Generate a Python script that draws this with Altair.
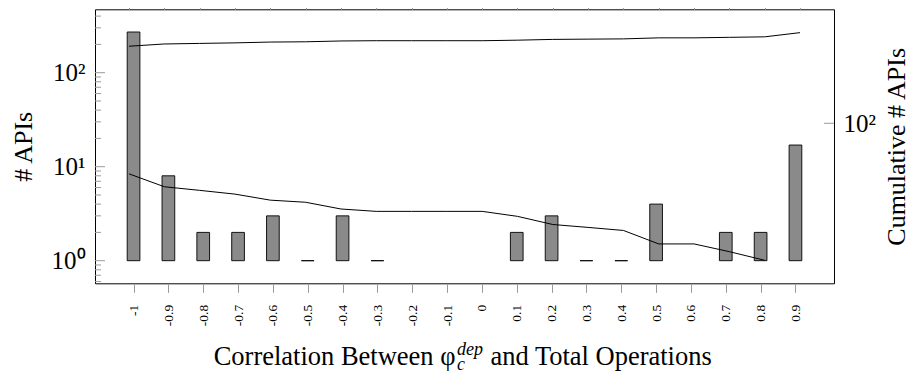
import json
import altair as alt
import pandas as pd

# ---------------- data ----------------
x_vals = [-1.0, -0.9, -0.8, -0.7, -0.6, -0.5, -0.4, -0.3, -0.2, -0.1,
          0.0, 0.1, 0.2, 0.3, 0.4, 0.5, 0.6, 0.7, 0.8, 0.9]
api_counts = [271, 8, 2, 2, 3, 1, 3, 1, 0, 0,
              0, 2, 3, 1, 1, 4, 0, 2, 2, 17]
cumulative = [271, 279, 281, 283, 286, 287, 290, 291, 291, 291,
              291, 293, 296, 297, 298, 302, 302, 304, 306, 323]
remaining = [52, 44, 42, 40, 37, 36, 33, 32, 32, 32,
             32, 30, 27, 26, 25, 21, 21, 19, 17, None]

x_tick_labels = ["-1", "-0.9", "-0.8", "-0.7", "-0.6", "-0.5", "-0.4", "-0.3", "-0.2", "-0.1",
                 "0", "0.1", "0.2", "0.3", "0.4", "0.5", "0.6", "0.7", "0.8", "0.9"]
y_left_ticks = [1, 10, 100]
y_left_labels = ["10⁰", "10¹", "10²"]
y_left_minor = [0.6, 0.7, 0.8, 0.9, 2, 3, 4, 5, 6, 7, 8, 9,
                20, 30, 40, 50, 60, 70, 80, 90, 200, 300, 400]
y_right_ticks = [100]
y_right_labels = ["10²"]

y_left_title = "# APIs"
y_right_title = "Cumulative # APIs"
x_title_parts = ["Correlation Between φ", "dep", "c", "and Total Operations"]

# ---------------- layout / style ----------------
W, H = 739, 274
FONT = "Liberation Serif"
TICK_GREY = "#9a9a9a"

bars_df = pd.DataFrame({"x": x_vals, "count": api_counts})
bars_df = bars_df[bars_df["count"] > 0].copy()
bars_df["base"] = 1
line_df = pd.DataFrame({"x": x_vals, "cumulative": cumulative, "remaining": remaining})
rem_df = line_df.dropna(subset=["remaining"])

XDOM = [-1.0963, 0.9963]
YLDOM = [0.5748, 472.6]
YRDOM = [12.62, 436.9]


def xs():
    return alt.Scale(domain=XDOM, nice=False, zero=False)


def yls():
    return alt.Scale(type="log", domain=YLDOM, nice=False)


def yrs():
    return alt.Scale(type="log", domain=YRDOM, nice=False)


x_label_expr = json.dumps(x_tick_labels, ensure_ascii=False) + "[round((datum.value + 1) * 10)]"
yl_label_expr = (f"datum.value < 3 ? '{y_left_labels[0]}' : "
                 f"datum.value < 30 ? '{y_left_labels[1]}' : '{y_left_labels[2]}'")
yr_label_expr = f"'{y_right_labels[0]}'"

bottom_axis = alt.Axis(orient="bottom", values=x_vals, labelExpr=x_label_expr, labelAngle=270,
                       labelFontSize=13.5, tickSize=9, tickColor=TICK_GREY, tickWidth=1,
                       labelPadding=12, domain=False, grid=False, title=None)
left_axis = alt.Axis(orient="left", values=y_left_ticks, labelExpr=yl_label_expr,
                     ticks=False, tickSize=0,
                     domain=False, grid=False, labelFontSize=25, labelPadding=10,
                     title=y_left_title, titleFontSize=26, titleAngle=270,
                     titleX=-64, titleY=H / 2, titleAlign="center",
                     titleBaseline="alphabetic")
top_axis = alt.Axis(orient="top", values=x_vals, labels=False, tickSize=9,
                    tickColor=TICK_GREY, tickWidth=1, domain=False, grid=False, title=None)
right_axis = alt.Axis(orient="right", values=y_right_ticks, labelExpr=yr_label_expr,
                      ticks=False, tickSize=0, domain=False, grid=False,
                      labelFontSize=25, labelPadding=9,
                      title=y_right_title, titleFontSize=26, titleAngle=270,
                      titleX=71, titleY=H / 2, titleAlign="center",
                      titleBaseline="alphabetic")

bars = alt.Chart(bars_df).mark_bar(size=12.7, fill="#8a8a8a", stroke="black",
                                   strokeWidth=0.9).encode(
    x=alt.X("x:Q", scale=xs(), axis=bottom_axis),
    y=alt.Y("count:Q", scale=yls(), axis=left_axis),
    y2="base:Q",
)

major_ticks = alt.Chart(pd.DataFrame({"v": y_left_ticks})).mark_rule(
    color=TICK_GREY, strokeWidth=1).encode(
    y=alt.Y("v:Q", scale=yls(), axis=None), x=alt.value(0), x2=alt.value(10))
minor_ticks = alt.Chart(pd.DataFrame({"v": y_left_minor})).mark_rule(
    color=TICK_GREY, strokeWidth=1).encode(
    y=alt.Y("v:Q", scale=yls(), axis=None), x=alt.value(0), x2=alt.value(6))

cum_line = alt.Chart(line_df).mark_line(color="black", strokeWidth=1).encode(
    x=alt.X("x:Q", scale=xs(), axis=top_axis),
    y=alt.Y("cumulative:Q", scale=yrs(), axis=right_axis),
)
rem_line = alt.Chart(rem_df).mark_line(color="black", strokeWidth=1).encode(
    x=alt.X("x:Q", scale=xs(), axis=None),
    y=alt.Y("remaining:Q", scale=yrs(), axis=None),
)
right_tick = alt.Chart(pd.DataFrame({"v": y_right_ticks})).mark_rule(
    color=TICK_GREY, strokeWidth=1).encode(
    y=alt.Y("v:Q", scale=yrs(), axis=None), x=alt.value(W - 10), x2=alt.value(W))


def title_piece(text, x, y, size, style="normal", align="left"):
    return alt.Chart(pd.DataFrame({"t": [text]})).mark_text(
        align=align, baseline="alphabetic", font=FONT, fontSize=size,
        fontStyle=style, color="black").encode(
        text="t:N", x=alt.value(x), y=alt.value(y))


TY = 356
PHI_END = 360.5
t1 = title_piece(x_title_parts[0], PHI_END, TY, 26.5, align="right")
t2 = title_piece(x_title_parts[1], PHI_END + 1.5, TY - 10, 18, style="italic")
t3 = title_piece(x_title_parts[2], PHI_END + 1.5, TY + 5, 18, style="italic")
t4 = title_piece(x_title_parts[3], PHI_END + 35, TY, 26.5)

chart = alt.layer(
    bars, cum_line, rem_line, major_ticks, minor_ticks, right_tick, t1, t2, t3, t4
).resolve_scale(
    x="independent", y="independent"
).properties(
    width=W, height=H,
    autosize=alt.AutoSizeParams(type="none"),
    padding={"left": 87, "top": 1.3, "right": 74, "bottom": 90},
).configure_view(
    stroke="black", strokeWidth=1
).configure_axis(
    labelFont=FONT, titleFont=FONT, labelColor="black", titleColor="black",
    titleFontWeight="normal",
).configure_text(
    font=FONT
)

chart.save("out.html", embed_options={"renderer": "svg", "actions": False})
